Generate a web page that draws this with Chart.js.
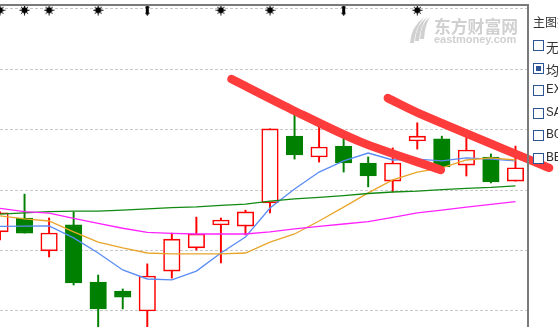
<!DOCTYPE html>
<html>
<head>
<meta charset="utf-8">
<script src="https://cdn.jsdelivr.net/npm/chart.js@4.4.0/dist/chart.umd.min.js"></script>
<style>
  html, body { margin: 0; padding: 0; background: #fff; overflow: hidden; }
  #wrap { position: relative; width: 558px; height: 327px; overflow: hidden; }
  #wrap canvas { position: absolute; left: 0; top: 0; }
  .side { position: absolute; left: 533px; color: #333; white-space: nowrap; }
  .title { font: 12px "Noto Sans CJK SC", sans-serif; top: 13px; }
  .row { position: absolute; left: 533px; height: 12px; white-space: nowrap; }
  .box { position: absolute; left: 0; top: 0; width: 9px; height: 9px; border: 1.5px solid #2d5596; background: #fff; }
  .box.on::after { content: ''; position: absolute; left: 2px; top: 2px; width: 5px; height: 5px; background: #2d5596; }
  .lbl { position: absolute; left: 13px; top: -3px; font: 13px "Liberation Mono", "Noto Sans CJK SC", monospace; color: #333; }
</style>
</head>
<body>
<div id="wrap">
  <canvas id="kChart" width="558" height="327"></canvas>
  <div class="side title">主图指标</div>
  <div id="indicators"></div>
</div>
<script>
// candles (price units)
const candleIndex = [0, 1, 2, 3, 4, 5, 6, 7, 8, 9, 10, 11, 12, 13, 14, 15, 16, 17, 18, 19, 20, 21];
const openPrices  = [5.262, 5.308, 5.199, 5.285, 5.096, 5.066, 5.000, 5.132, 5.209, 5.285, 5.281, 5.358, 5.579, 5.510, 5.546, 5.490, 5.430, 5.563, 5.570, 5.483, 5.510, 5.430];
const highPrices  = [5.328, 5.387, 5.308, 5.328, 5.119, 5.073, 5.156, 5.258, 5.311, 5.308, 5.334, 5.603, 5.656, 5.616, 5.576, 5.510, 5.540, 5.623, 5.579, 5.579, 5.520, 5.546];
const lowPrices   = [5.235, 5.258, 5.179, 5.086, 4.944, 5.007, 4.944, 5.109, 5.202, 5.159, 5.252, 5.325, 5.503, 5.493, 5.460, 5.411, 5.394, 5.536, 5.474, 5.447, 5.424, 5.430];
const closePrices = [5.325, 5.258, 5.258, 5.093, 5.007, 5.046, 5.116, 5.238, 5.255, 5.301, 5.328, 5.603, 5.517, 5.543, 5.490, 5.447, 5.490, 5.579, 5.477, 5.533, 5.427, 5.474];

// moving averages
const ma5  = [5.280, 5.281, 5.282, 5.242, 5.192, 5.136, 5.106, 5.103, 5.132, 5.192, 5.245, 5.341, 5.404, 5.460, 5.497, 5.523, 5.500, 5.503, 5.497, 5.507, 5.503, 5.497];
const ma10 = [5.315, 5.305, 5.298, 5.262, 5.228, 5.209, 5.192, 5.189, 5.189, 5.189, 5.192, 5.228, 5.255, 5.298, 5.344, 5.391, 5.434, 5.460, 5.474, 5.500, 5.507, 5.500];
const ma20 = [5.321, 5.325, 5.329, 5.331, 5.331, 5.334, 5.338, 5.342, 5.345, 5.350, 5.354, 5.364, 5.371, 5.376, 5.382, 5.389, 5.394, 5.397, 5.402, 5.406, 5.409, 5.414];
const ma30 = [5.340, 5.329, 5.324, 5.307, 5.290, 5.274, 5.260, 5.257, 5.255, 5.255, 5.255, 5.262, 5.272, 5.280, 5.288, 5.296, 5.310, 5.325, 5.334, 5.344, 5.353, 5.362];

// hand drawn trend strokes (x in candle index, y in price)
const stroke1X = [9.43, 11.84, 14.69, 17.96];
const stroke1Y = [5.768, 5.669, 5.560, 5.467];
const stroke2X = [15.80, 17.14, 22.37];
const stroke2Y = [5.705, 5.652, 5.474];

// event markers along the top line
const starIndex = [0, 1, 2, 4, 9, 11, 17];
const arrowIndex = [6, 14];
const markerLevel = [5.996];

// grid levels and indicator list
const gridTicks = [5.0, 5.2, 5.4, 5.6, 5.8, 6.0];
const indicatorNames = ['无', '均线', 'EXPMA', 'SAR', 'BOLL', 'BBI'];
const activeIndicator = '均线';

const UP = '#ff0000';
const DOWN = '#008000';
const isUp = i => closePrices[i] >= openPrices[i];

// side panel
const panel = document.getElementById('indicators');
indicatorNames.forEach((name, k) => {
    const row = document.createElement('div');
    row.className = 'row';
    row.style.top = (40 + k * 22.6) + 'px';
    row.innerHTML = '<div class="box' + (name === activeIndicator ? ' on' : '') + '"></div><div class="lbl">' + name + '</div>';
    panel.appendChild(row);
});

// marker glyphs
function makeStar() {
    const c = document.createElement('canvas');
    c.width = 11; c.height = 11;
    const g = c.getContext('2d');
    g.fillStyle = '#000';
    g.beginPath(); g.arc(5.5, 5.5, 3, 0, Math.PI * 2); g.fill();
    g.strokeStyle = '#000'; g.lineWidth = 1;
    for (let k = 0; k < 8; k++) {
        const a = k * Math.PI / 4;
        g.beginPath();
        g.moveTo(5.5, 5.5);
        g.lineTo(5.5 + 5 * Math.cos(a), 5.5 + 5 * Math.sin(a));
        g.stroke();
    }
    return c;
}
function makeArrow() {
    const c = document.createElement('canvas');
    c.width = 5; c.height = 11;
    const g = c.getContext('2d');
    g.fillStyle = '#000';
    g.beginPath();
    g.moveTo(2.5, 0); g.lineTo(5, 3); g.lineTo(4, 3); g.lineTo(4, 8); g.lineTo(5, 8);
    g.lineTo(2.5, 11); g.lineTo(0, 8); g.lineTo(1, 8); g.lineTo(1, 3); g.lineTo(0, 3);
    g.closePath(); g.fill();
    return c;
}

const watermark = {
    id: 'watermark',
    beforeDatasetsDraw(chart) {
        const g = chart.ctx;
        g.save();
        g.fillStyle = '#d0d0d0';
        // logo blades
        [[0, 0], [5, -2], [10, -4]].forEach(([dx, dy]) => {
            g.beginPath();
            g.moveTo(410 + dx, 43 + dy);
            g.quadraticCurveTo(411 + dx, 27 + dy, 424 + dx * 0.6, 17);
            g.quadraticCurveTo(415 + dx, 29 + dy, 414 + dx, 43 + dy);
            g.closePath();
            g.fill();
        });
        g.font = 'bold 17px "Noto Sans CJK SC"';
        g.textBaseline = 'middle';
        g.fillText('东方财富网', 434, 26.5, 84);
        g.font = 'bold 11px "Liberation Sans"';
        g.textBaseline = 'alphabetic';
        g.fillText('eastmoney.com', 434, 43, 83);
        g.restore();
    }
};

const frame = {
    id: 'frame',
    afterDraw(chart) {
        const g = chart.ctx;
        const a = chart.chartArea;
        g.save();
        g.strokeStyle = '#7a7a7a';
        g.lineWidth = 2;
        g.beginPath();
        g.moveTo(a.left, 5); g.lineTo(a.right + 1, 5);
        g.moveTo(a.right + 1, 4); g.lineTo(a.right + 1, 327);
        g.stroke();
        g.restore();
    }
};

const starImg = makeStar();
const arrowImg = makeArrow();

new Chart(document.getElementById('kChart'), {
    type: 'bar',
    data: {
        datasets: [
            {
                type: 'bar',
                data: candleIndex.map(i => ({ x: i, y: [lowPrices[i], highPrices[i]] })),
                backgroundColor: c => isUp(c.dataIndex) ? UP : DOWN,
                barThickness: 1.3,
                grouped: false,
                order: 6
            },
            {
                type: 'bar',
                data: candleIndex.map(i => ({ x: i, y: [openPrices[i], closePrices[i]] })),
                backgroundColor: c => isUp(c.dataIndex) ? '#ffffff' : DOWN,
                borderColor: c => isUp(c.dataIndex) ? UP : DOWN,
                borderWidth: 1.6,
                borderSkipped: false,
                barThickness: 16.5,
                grouped: false,
                order: 5
            },
            { type: 'line', data: candleIndex.map(i => ({ x: i, y: ma30[i] })), borderColor: '#ff22ff', borderWidth: 1.3, pointRadius: 0, order: 4 },
            { type: 'line', data: candleIndex.map(i => ({ x: i, y: ma20[i] })), borderColor: '#118a11', borderWidth: 1.3, pointRadius: 0, order: 4 },
            { type: 'line', data: candleIndex.map(i => ({ x: i, y: ma10[i] })), borderColor: '#e8a52a', borderWidth: 1.3, pointRadius: 0, order: 4 },
            { type: 'line', data: candleIndex.map(i => ({ x: i, y: ma5[i] })), borderColor: '#5a8cf5', borderWidth: 1.3, pointRadius: 0, order: 4 },
            {
                type: 'line',
                data: stroke1X.map((x, k) => ({ x: x, y: stroke1Y[k] })),
                borderColor: '#ff3c3c', borderWidth: 8.5, borderCapStyle: 'round', borderJoinStyle: 'round',
                tension: 0.3, pointRadius: 0, clip: false, order: 1
            },
            {
                type: 'line',
                data: stroke2X.map((x, k) => ({ x: x, y: stroke2Y[k] })),
                borderColor: '#ff3c3c', borderWidth: 8.5, borderCapStyle: 'round', borderJoinStyle: 'round',
                tension: 0.3, pointRadius: 0, clip: false, order: 1
            },
            {
                type: 'line',
                data: starIndex.map(i => ({ x: i, y: markerLevel[0] })),
                showLine: false, pointStyle: starImg, pointRadius: 5, clip: false, order: 0
            },
            {
                type: 'line',
                data: arrowIndex.map(i => ({ x: i, y: markerLevel[0] })),
                showLine: false, pointStyle: arrowImg, pointRadius: 5, clip: false, order: 0
            }
        ]
    },
    options: {
        responsive: false,
        animation: false,
        layout: { autoPadding: false, padding: { left: 0, top: 5, right: 31, bottom: 0 } },
        plugins: { legend: { display: false }, tooltip: { enabled: false } },
        scales: {
            x: {
                type: 'linear',
                display: false,
                offset: false,
                min: 0,
                max: 21.47
            },
            y: {
                min: 4.947,
                max: 6.0132,
                afterBuildTicks: scale => { scale.ticks = gridTicks.map(v => ({ value: v })); },
                afterFit: scale => { scale.width = 0; },
                ticks: { display: false },
                grid: { color: '#c8c8c8', drawTicks: false, lineWidth: 1 },
                border: { display: false, dash: [3, 2] }
            }
        }
    },
    plugins: [watermark, frame]
});
</script>
</body>
</html>
